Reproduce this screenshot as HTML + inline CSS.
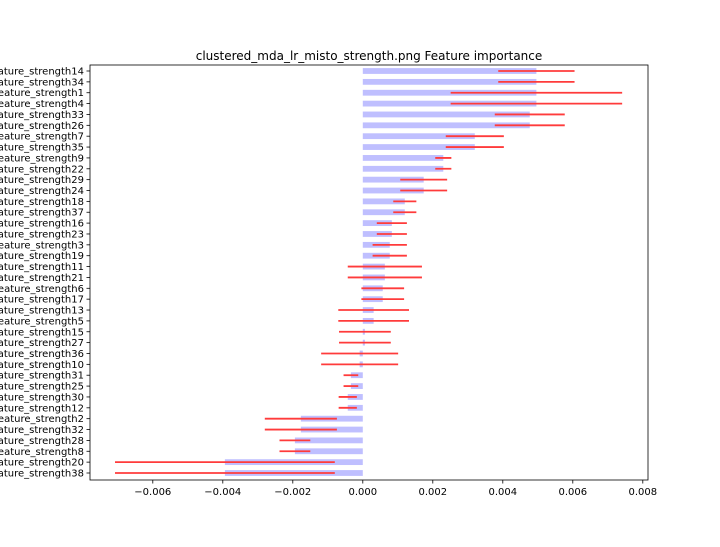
<!DOCTYPE html>
<html><head><meta charset="utf-8"><style>
html,body{margin:0;padding:0;background:#fff;}
svg{display:block;font-family:"DejaVu Sans","Liberation Sans",sans-serif;}
</style></head><body>
<svg id="chart" width="720" height="547" viewBox="0 0 720 547" xmlns="http://www.w3.org/2000/svg">
<rect width="720" height="547" fill="#fff"/>
<text x="369" y="60" font-size="12" text-anchor="middle">clustered_mda_lr_misto_strength.png Feature importance</text>
<g id="bars"></g><g id="errs"></g><g id="axes"></g>
</svg>
<script>
const categories = ["14","34","1","4","33","26","7","35","9","22","29","24","18","37","16","23","3","19","11","21","6","17","13","5","15","27","36","10","31","25","30","12","2","32","28","8","20","38"].map(s=>"feature_strength"+s);
const values = [0.00496,0.00496,0.00496,0.00496,0.00477,0.00477,0.0032,0.0032,0.0023,0.0023,0.00174,0.00174,0.0012,0.0012,0.00083,0.00083,0.00077,0.00077,0.00063,0.00063,0.00057,0.00057,0.00031,0.00031,0.00006,0.00006,-0.00009,-0.00009,-0.00034,-0.00034,-0.00043,-0.00043,-0.00177,-0.00177,-0.00194,-0.00194,-0.00394,-0.00394];
const errors = [0.00109,0.00109,0.00245,0.00245,0.001,0.001,0.00083,0.00083,0.00023,0.00023,0.00067,0.00067,0.00033,0.00033,0.00043,0.00043,0.00049,0.00049,0.00106,0.00106,0.00061,0.00061,0.00101,0.00101,0.00074,0.00074,0.0011,0.0011,0.00021,0.00021,0.00026,0.00026,0.00103,0.00103,0.00044,0.00044,0.00314,0.00314];
const xTicks = [-0.006,-0.004,-0.002,0,0.002,0.004,0.006,0.008];
const xTickLabels = ["\u22120.006","\u22120.004","\u22120.002","0.000","0.002","0.004","0.006","0.008"];

const L=90,R=648,T=65,B=480;
const x = v => 362.8 + v*35000;
const rowStep = (473-71)/37;
const y = i => 71 + i*rowStep;
const NS="http://www.w3.org/2000/svg";
function mk(tag, attrs, parent){const e=document.createElementNS(NS,tag);for(const k in attrs)e.setAttribute(k,attrs[k]);parent.appendChild(e);return e;}
const gb=document.getElementById('bars'), ge=document.getElementById('errs'), ga=document.getElementById('axes');
categories.forEach((c,i)=>{
  const v=values[i], x0=x(0), x1=x(v);
  const r=mk('rect',{x:Math.min(x0,x1),y:y(i)-2.9,width:Math.max(Math.abs(x1-x0),0.8),height:5.8,fill:'#bfbfff'},gb);
  
  
  const l=mk('line',{x1:x(v-errors[i]),x2:x(v+errors[i]),y1:y(i),y2:y(i),stroke:'#ff3b3b','stroke-width':1.8},ge);
  
  
  mk('line',{x1:L-3.5,x2:L,y1:y(i),y2:y(i),stroke:'#000','stroke-width':0.8},ga);
  const t=mk('text',{x:L-6,y:y(i)+3.5,'font-size':10,'text-anchor':'end'},ga);
  t.textContent=c;
  
  
});
xTicks.forEach((v,i)=>{
  mk('line',{x1:x(v),x2:x(v),y1:B,y2:B+3.5,stroke:'#000','stroke-width':0.8},ga);
  const t=mk('text',{x:x(v),y:B+15,'font-size':10,'text-anchor':'middle'},ga);
  t.textContent=xTickLabels[i];
  
  
});
const f=mk('rect',{x:L,y:T,width:R-L,height:B-T,fill:'none',stroke:'#000','stroke-width':0.8},ga);


</script>
</body></html>
